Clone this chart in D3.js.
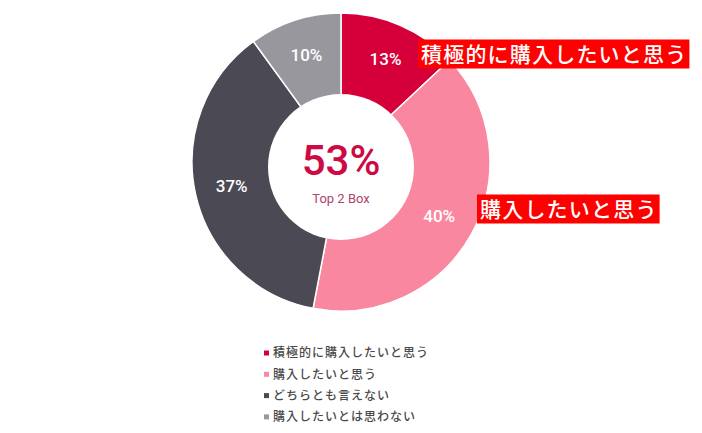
<!DOCTYPE html>
<html>
<head>
<meta charset="utf-8">
<script src="https://cdn.jsdelivr.net/npm/d3@7"></script>
<style>
  body { margin: 0; background: #fff; }
  svg { font-family: "Noto Sans CJK JP", "Noto Sans", sans-serif; }
</style>
</head>
<body>
<script>
// data
var categories = ["積極的に購入したいと思う", "購入したいと思う", "どちらとも言えない", "購入したいとは思わない"];
var values = [13, 40, 37, 10];
var colors = ["#d5003a", "#f8879f", "#4b4a54", "#98979d"];
var topBox = "53%";
var topBoxLabel = "Top 2 Box";
var callouts = [
  { idx: 0, text: "積極的に購入したいと思う", x: 418, y: 54 },
  { idx: 1, text: "購入したいと思う", x: 477, y: 209 }
];

var width = 702, height = 433;
var cx = 341, cy = 162, outerR = 149;

var svg = d3.select("body").append("svg")
  .attr("width", width)
  .attr("height", height);

var pie = d3.pie().sort(null).value(function(d) { return d; });
var arcs = pie(values);

var arc = d3.arc().innerRadius(0).outerRadius(outerR);
var labelArc = d3.arc().innerRadius(112).outerRadius(112);

var g = svg.append("g").attr("transform", "translate(" + cx + "," + cy + ")");

g.selectAll("path")
  .data(arcs)
  .enter()
  .append("path")
  .attr("d", arc)
  .attr("fill", function(d, i) { return colors[i]; })
  .attr("stroke", "#fff")
  .attr("stroke-width", 1.5);

// hole
g.append("circle")
  .attr("cx", 0)
  .attr("cy", 5)
  .attr("r", 73)
  .attr("fill", "#fff");

g.selectAll("text.pct")
  .data(arcs)
  .enter()
  .append("text")
  .attr("class", "pct")
  .attr("transform", function(d) {
    var c = labelArc.centroid(d);
    return "translate(" + c[0] + "," + c[1] + ")";
  })
  .attr("text-anchor", "middle")
  .attr("dy", "0.35em")
  .attr("fill", "#fff")
  .style("font-family", "Roboto, sans-serif")
  .style("font-size", "17px")
  .style("font-weight", "500")
  .text(function(d) { return d.data + "%"; });

g.append("text")
  .attr("x", 0)
  .attr("y", 13)
  .attr("text-anchor", "middle")
  .attr("fill", "#cc0a44")
  .style("font-family", "Roboto, sans-serif")
  .style("font-size", "42px")
  .style("font-weight", "500")
  .text(topBox);

g.append("text")
  .attr("x", 0)
  .attr("y", 41)
  .attr("text-anchor", "middle")
  .attr("fill", "#b0426e")
  .style("font-family", "Roboto, sans-serif")
  .style("font-size", "13px")
  .text(topBoxLabel);

// red callouts
callouts.forEach(function(c) {
  var t = svg.append("text")
    .attr("x", c.x + 3)
    .attr("y", c.y)
    .attr("dy", "0.36em")
    .attr("fill", "#fff")
    .style("font-size", "21px")
    .style("font-weight", "500")
    .style("letter-spacing", "1.2px")
    .text(c.text);
  var bb = t.node().getBBox();
  svg.insert("rect", function() { return t.node(); })
    .attr("x", c.x)
    .attr("y", c.y - 14.5)
    .attr("width", bb.width + 5)
    .attr("height", 29)
    .attr("fill", "#ff0000");
});

// legend
var legend = svg.append("g").attr("transform", "translate(264,353)");
var rows = legend.selectAll("g")
  .data(categories)
  .enter()
  .append("g")
  .attr("transform", function(d, i) { return "translate(0," + (i * 21.3) + ")"; });

rows.append("rect")
  .attr("x", 0).attr("y", -2.5)
  .attr("width", 5).attr("height", 5)
  .attr("fill", function(d, i) { return colors[i]; });

rows.append("text")
  .attr("x", 9)
  .attr("dy", "0.36em")
  .attr("fill", "#4a4a4a")
  .style("font-size", "12px")
  .style("font-weight", "500")
  .style("letter-spacing", "1px")
  .text(function(d) { return d; });
</script>
</body>
</html>
